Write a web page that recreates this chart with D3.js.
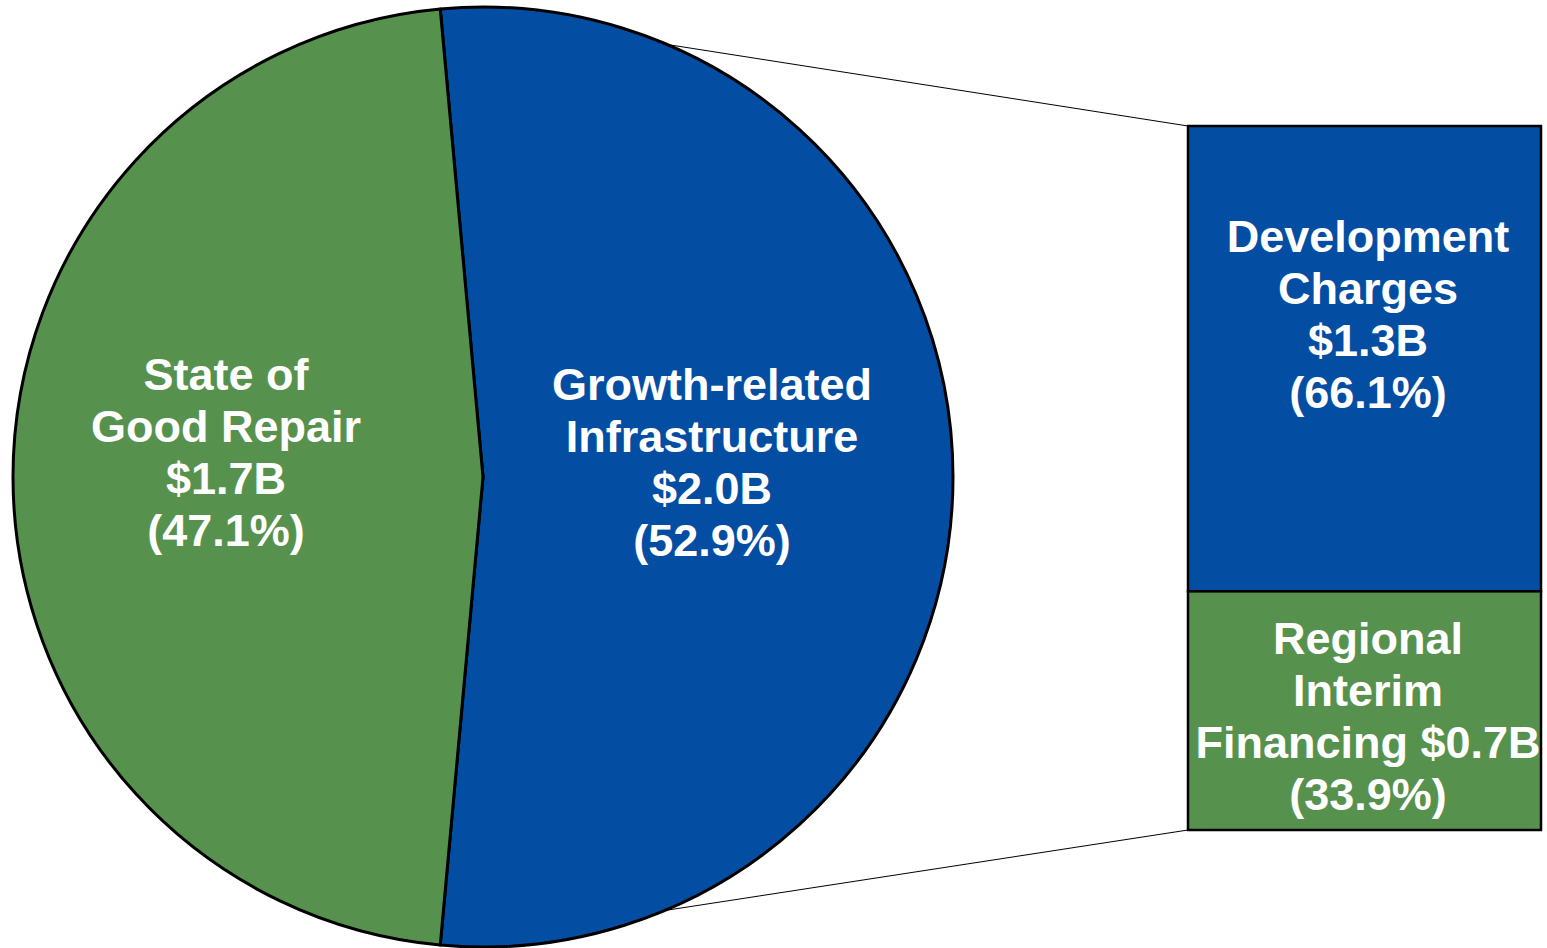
<!DOCTYPE html>
<html><head><meta charset="utf-8">
<script src="https://cdn.jsdelivr.net/npm/d3@7"></script>
<style>html,body{margin:0;padding:0;background:#fff;}svg{display:block;}</style>
</head><body>
<svg id="c" width="1547" height="948"></svg>
<script>
const pieCategories = ["Growth-related Infrastructure", "State of Good Repair"];
const pieAmounts = ["$2.0B", "$1.7B"];
const piePercents = [52.9, 47.1];
const pieLabelLines = [["Growth-related", "Infrastructure"], ["State of", "Good Repair"]];
const barCategories = ["Development Charges", "Regional Interim Financing"];
const barAmounts = ["$1.3B", "$0.7B"];
const barPercents = [66.1, 33.9];
const barLabelLines = [["Development", "Charges", "$1.3B"], ["Regional", "Interim", "Financing $0.7B"]];

const BLUE = "#034EA2", GREEN = "#56924E";
const colors = [BLUE, GREEN];
const svg = d3.select("#c");
const cx = 483, cy = 477, R = 470;
const font = "'Liberation Sans', Arial, sans-serif";

const blueAngle = piePercents[0] / 100 * 2 * Math.PI;
const start = Math.PI / 2 - blueAngle / 2;
const pie = d3.pie().sort(null).value(d => d).startAngle(start).endAngle(start + 2 * Math.PI);
const arcs = pie(piePercents);
const arc = d3.arc().innerRadius(0).outerRadius(R);

const bx0 = 1188, bx1 = 1541;
const y = d3.scaleLinear().domain([0, 100]).range([830, 126]);
const stacked = [
  {i: 0, lo: barPercents[1], hi: barPercents[1] + barPercents[0]},
  {i: 1, lo: 0, hi: barPercents[1]}
];

const a0 = arcs[0].startAngle, a1 = arcs[0].endAngle;
const p0 = [cx + R * Math.sin(a0), cy - R * Math.cos(a0)];
const p1 = [cx + R * Math.sin(a1), cy - R * Math.cos(a1)];
svg.append("line").attr("x1", p0[0]).attr("y1", p0[1]).attr("x2", bx0).attr("y2", y(100))
  .attr("stroke", "#000").attr("stroke-width", 1);
svg.append("line").attr("x1", p1[0]).attr("y1", p1[1]).attr("x2", bx0).attr("y2", y(0))
  .attr("stroke", "#000").attr("stroke-width", 1);

const g = svg.append("g").attr("transform", `translate(${cx},${cy})`);
g.selectAll("path").data(arcs).join("path")
  .attr("d", arc).attr("fill", (d, i) => colors[i])
  .attr("stroke", "#000").attr("stroke-width", 3).attr("stroke-linejoin", "round");

svg.selectAll("rect.bar").data(stacked).join("rect").attr("class", "bar")
  .attr("x", bx0).attr("width", bx1 - bx0)
  .attr("y", d => y(d.hi)).attr("height", d => y(d.lo) - y(d.hi))
  .attr("fill", d => colors[d.i]).attr("stroke", "#000").attr("stroke-width", 2.5);

function label(x, yTop, lines) {
  const t = svg.append("text").attr("text-anchor", "middle").attr("fill", "#fff")
    .attr("font-family", font).attr("font-weight", "bold").attr("font-size", 45);
  lines.forEach((l, k) => t.append("tspan").attr("x", x).attr("y", yTop + k * 52).text(l));
}
const pieLabelPos = [[712, 400], [226, 390]];
pieLabelLines.forEach((lines, i) => {
  label(pieLabelPos[i][0], pieLabelPos[i][1], [...lines, pieAmounts[i], `(${piePercents[i].toFixed(1)}%)`]);
});
const barLabelY = [252, 654];
barLabelLines.forEach((lines, i) => {
  label(1368, barLabelY[i], [...lines, `(${barPercents[i].toFixed(1)}%)`]);
});
</script>
</body></html>
